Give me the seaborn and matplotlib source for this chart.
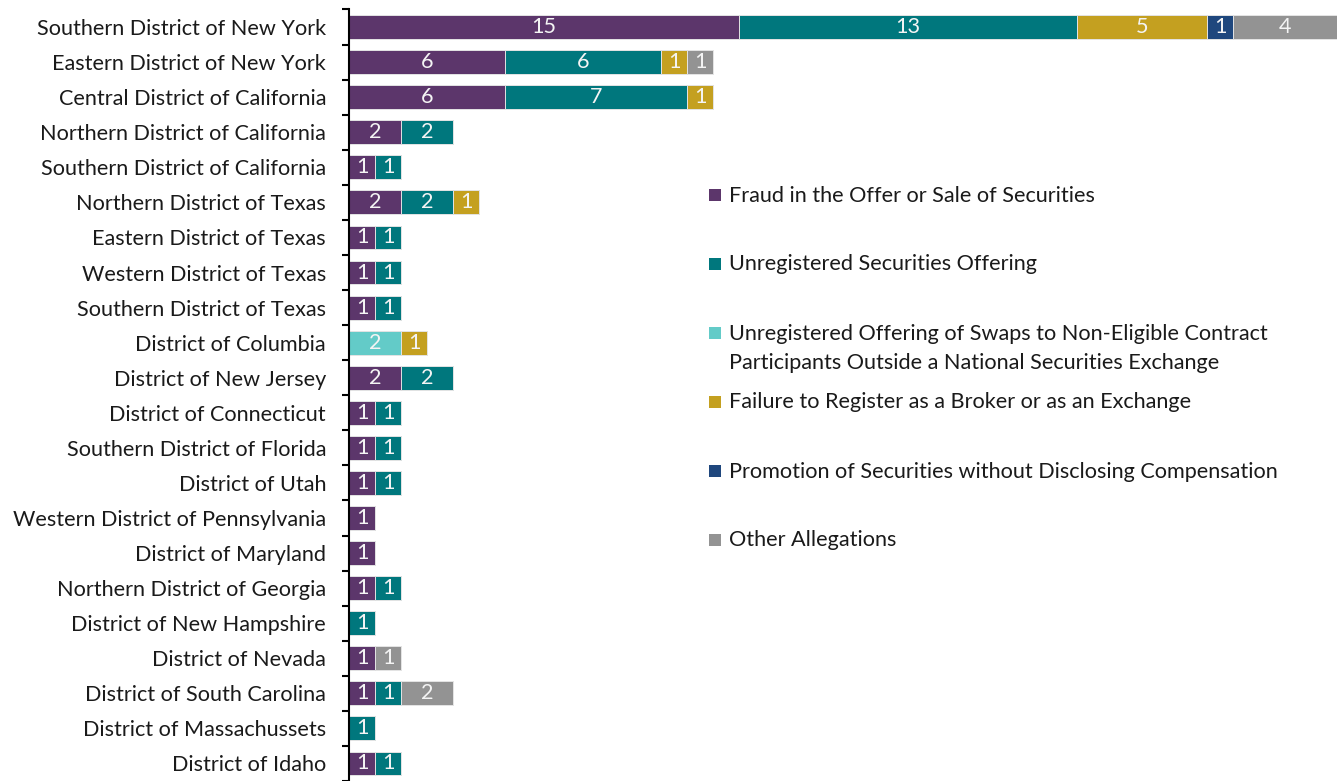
import numpy as np
import pandas as pd
import matplotlib
matplotlib.use("Agg")
import matplotlib.pyplot as plt
from matplotlib.patches import Rectangle
import seaborn as sns

districts = [
    "Southern District of New York", "Eastern District of New York",
    "Central District of California", "Northern District of California",
    "Southern District of California", "Northern District of Texas",
    "Eastern District of Texas", "Western District of Texas",
    "Southern District of Texas", "District of Columbia",
    "District of New Jersey", "District of Connecticut",
    "Southern District of Florida", "District of Utah",
    "Western District of Pennsylvania", "District of Maryland",
    "Northern District of Georgia", "District of New Hampshire",
    "District of Nevada", "District of South Carolina",
    "District of Massachussets", "District of Idaho",
]
fraud     = [15, 6, 6, 2, 1, 2, 1, 1, 1, 0, 2, 1, 1, 1, 1, 1, 1, 0, 1, 1, 0, 1]
unreg     = [13, 6, 7, 2, 1, 2, 1, 1, 1, 0, 2, 1, 1, 1, 0, 0, 1, 1, 0, 1, 1, 1]
swaps     = [0, 0, 0, 0, 0, 0, 0, 0, 0, 2, 0, 0, 0, 0, 0, 0, 0, 0, 0, 0, 0, 0]
failure   = [5, 1, 1, 0, 0, 1, 0, 0, 0, 1, 0, 0, 0, 0, 0, 0, 0, 0, 0, 0, 0, 0]
promotion = [1, 0, 0, 0, 0, 0, 0, 0, 0, 0, 0, 0, 0, 0, 0, 0, 0, 0, 0, 0, 0, 0]
other     = [4, 1, 0, 0, 0, 0, 0, 0, 0, 0, 0, 0, 0, 0, 0, 0, 0, 0, 1, 2, 0, 0]

series_names = [
    "Fraud in the Offer or Sale of Securities",
    "Unregistered Securities Offering",
    "Unregistered Offering of Swaps to Non-Eligible Contract\nParticipants Outside a National Securities Exchange",
    "Failure to Register as a Broker or as an Exchange",
    "Promotion of Securities without Disclosing Compensation",
    "Other Allegations",
]
colors = ["#5c366b", "#00777d", "#63cbc8", "#c4a020", "#1f477d", "#939393"]

sns.set_theme(style="white")
plt.rcParams["font.family"] = ["Lato", "DejaVu Sans"]
FS = 15.6

W, H = 1337, 781
fig = plt.figure(figsize=(W / 100, H / 100), dpi=100)
ax = fig.add_axes([349 / W, 0, 1 - 349 / W, (H - 9.5) / H])

vals = np.array([fraud, unreg, swaps, failure, promotion, other])
cum = np.cumsum(vals, axis=0)

for i in reversed(range(len(series_names))):
    df = pd.DataFrame({"district": districts, "cum": cum[i]})
    sns.barplot(data=df, x="cum", y="district", orient="h", color=colors[i],
                saturation=1, width=0.68, edgecolor="#e4e4e4", linewidth=0.7,
                ax=ax, order=districts)

for i in range(vals.shape[0]):
    for j in range(vals.shape[1]):
        v = vals[i, j]
        if v > 0:
            ax.text(cum[i, j] - v / 2, j, str(v), ha="center", va="center",
                    color="#f4f4f4", fontsize=FS)

ax.set_xlim(0, 38)
ax.set_ylim(len(districts) - 0.5, -0.5)
ax.set_xticks([])
ax.set_xlabel("")
ax.set_ylabel("")
for s in ["top", "right", "bottom"]:
    ax.spines[s].set_visible(False)
ax.spines["left"].set_color("black")
ax.spines["left"].set_linewidth(1.5)
ax.set_yticks(np.arange(-0.5, len(districts), 1), minor=True)
ax.tick_params(axis="y", which="major", length=0, pad=16.5, labelsize=FS,
               labelcolor="#1a1a1a")
ax.tick_params(axis="y", which="minor", length=5, width=1.5, color="black",
               direction="out", left=True)

# legend
leg_y = [195, 264, 333, 402, 471, 540]
LINE = 30
for name, c, y in zip(series_names, colors, leg_y):
    fig.add_artist(Rectangle((709 / W, 1 - (y + 6) / H), 12 / W, 12 / H,
                             transform=fig.transFigure, color=c, lw=0))
    nlines = name.count("\n")
    fig.text(729 / W, 1 - (y + 6.5 + LINE * nlines) / H, name, ha="left",
             va="baseline", fontsize=FS, color="#1a1a1a", linespacing=1.6)

fig.savefig("out.png", dpi=100)
